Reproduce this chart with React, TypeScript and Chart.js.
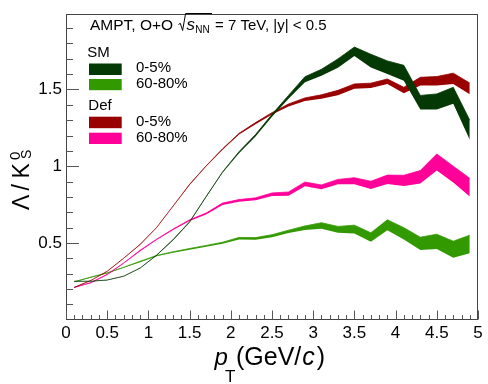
import React, { useEffect, useRef } from "react";
import { Chart, registerables } from "chart.js";

Chart.register(...registerables);

const FONT = '"Liberation Sans", Arial, Helvetica, sans-serif';

// pT bin centres (GeV/c)
const PT: number[] = [0.1, 0.3, 0.5, 0.7, 0.9, 1.1, 1.3, 1.5, 1.7, 1.9, 2.1, 2.3, 2.5, 2.7, 2.9, 3.1, 3.3, 3.5, 3.7, 3.9, 4.1, 4.3, 4.5, 4.7, 4.9];

// SM 0-5%
const SM_0_5: number[] = [0.25, 0.25, 0.258, 0.283, 0.336, 0.42, 0.52, 0.636, 0.8, 0.96, 1.09, 1.2, 1.33, 1.45, 1.565, 1.61, 1.67, 1.747, 1.686, 1.643, 1.607, 1.415, 1.42, 1.46, 1.236];
const SM_0_5_ERR: number[] = [0.001, 0.001, 0.001, 0.001, 0.001, 0.001, 0.002, 0.002, 0.002, 0.003, 0.005, 0.006, 0.008, 0.011, 0.018, 0.021, 0.029, 0.029, 0.043, 0.043, 0.05, 0.046, 0.051, 0.054, 0.064];

// SM 60-80%
const SM_60_80: number[] = [0.246, 0.276, 0.304, 0.34, 0.378, 0.416, 0.44, 0.46, 0.48, 0.5, 0.529, 0.528, 0.546, 0.574, 0.598, 0.612, 0.587, 0.589, 0.537, 0.617, 0.561, 0.496, 0.509, 0.458, 0.492];
const SM_60_80_ERR: number[] = [0.002, 0.002, 0.002, 0.002, 0.003, 0.003, 0.003, 0.004, 0.004, 0.005, 0.007, 0.007, 0.008, 0.009, 0.013, 0.02, 0.021, 0.027, 0.029, 0.034, 0.039, 0.042, 0.048, 0.054, 0.059];

// Def 0-5%
const DEF_0_5: number[] = [0.21, 0.255, 0.315, 0.4, 0.49, 0.6, 0.74, 0.88, 1.0, 1.11, 1.21, 1.279, 1.343, 1.397, 1.435, 1.452, 1.478, 1.52, 1.525, 1.552, 1.495, 1.552, 1.555, 1.571, 1.505];
const DEF_0_5_ERR: number[] = [0.001, 0.001, 0.001, 0.001, 0.001, 0.001, 0.001, 0.002, 0.002, 0.003, 0.004, 0.005, 0.006, 0.008, 0.01, 0.013, 0.016, 0.016, 0.016, 0.016, 0.019, 0.027, 0.029, 0.035, 0.037];

// Def 60-80%
const DEF_60_80: number[] = [0.21, 0.24, 0.294, 0.368, 0.45, 0.522, 0.588, 0.647, 0.69, 0.754, 0.776, 0.786, 0.816, 0.82, 0.883, 0.864, 0.898, 0.904, 0.877, 0.913, 0.906, 0.93, 1.026, 0.947, 0.862];
const DEF_60_80_ERR: number[] = [0.001, 0.002, 0.002, 0.002, 0.003, 0.003, 0.003, 0.004, 0.005, 0.006, 0.007, 0.008, 0.01, 0.012, 0.014, 0.014, 0.016, 0.021, 0.025, 0.029, 0.035, 0.042, 0.054, 0.053, 0.059];

const X_TICKS: number[] = [0, 0.5, 1, 1.5, 2, 2.5, 3, 3.5, 4, 4.5, 5];
const Y_TICKS: number[] = [0.5, 1, 1.5];

const C_SM_0_5 = "#043804";
const C_SM_60_80 = "#339900";
const C_DEF_0_5 = "#990000";
const C_DEF_60_80 = "#ff0099";

function band(center: number[], err: number[], color: string, order: number) {
  const lower = {
    data: PT.map((x, i) => ({ x, y: center[i] - err[i] })),
    borderColor: "rgba(0,0,0,0)",
    borderWidth: 1,
    backgroundColor: color,
    fill: false,
    pointRadius: 0,
    order: order + 1,
  };
  const upper = {
    data: PT.map((x, i) => ({ x, y: center[i] + err[i] })),
    borderColor: color,
    borderWidth: 0.8,
    backgroundColor: color,
    fill: "-1",
    pointRadius: 0,
    order: order,
  };
  return [lower, upper];
}

function txt(ctx: CanvasRenderingContext2D, s: string, x: number, y: number, size: number, italic = false) {
  ctx.font = `${italic ? "italic " : ""}${size}px ${FONT}`;
  ctx.fillText(s, x, y);
  return ctx.measureText(s).width;
}

const decor = {
  id: "decor",
  afterDraw(chart: any) {
    const ctx: CanvasRenderingContext2D = chart.ctx;
    const { left, right, top, bottom } = chart.chartArea;
    const xs = chart.scales.x;
    const ys = chart.scales.y;
    ctx.save();
    // frame
    ctx.strokeStyle = "#444";
    ctx.lineWidth = 1;
    const L = Math.floor(left) + 0.5;
    const R = Math.floor(right) - 0.5;
    const T = Math.floor(top) + 0.5;
    const B = Math.floor(bottom) + 0.5;
    ctx.strokeRect(L, T, R - L, B - T);
    // x ticks (inward)
    ctx.strokeStyle = "#555";
    ctx.beginPath();
    for (let i = 0; i <= 50; i++) {
      const px = Math.round(xs.getPixelForValue(i / 10)) + 0.5;
      const len = i % 5 === 0 ? 9 : 4.5;
      ctx.moveTo(px, B);
      ctx.lineTo(px, B - len);
    }
    // y ticks
    for (let i = 1; i <= 19; i++) {
      const py = Math.round(ys.getPixelForValue(i / 10)) + 0.5;
      const len = i % 5 === 0 ? 12.5 : 6.5;
      ctx.moveTo(L, py);
      ctx.lineTo(L + len, py);
    }
    ctx.stroke();

    ctx.fillStyle = "#000";
    ctx.textAlign = "left";
    ctx.textBaseline = "alphabetic";

    // header line
    txt(ctx, "AMPT, O+O", 90, 30, 15.5);
    ctx.strokeStyle = "#000";
    ctx.lineWidth = 1;
    ctx.beginPath();
    ctx.moveTo(178.5, 24.5);
    ctx.lineTo(180.3, 23.3);
    ctx.lineTo(182.6, 30.5);
    ctx.lineTo(185.6, 13.5);
    ctx.lineTo(212, 13.5);
    ctx.stroke();
    txt(ctx, "s", 186.5, 30, 17, true);
    txt(ctx, "NN", 195.3, 32.7, 10);
    txt(ctx, "= 7 TeV, |y| < 0.5", 215, 30, 15);

    // legend
    txt(ctx, "SM", 87.3, 57.3, 15);
    ctx.fillStyle = C_SM_0_5;
    ctx.fillRect(89, 63.5, 32.7, 11.5);
    ctx.fillStyle = C_SM_60_80;
    ctx.fillRect(89, 79, 32.7, 11.2);
    ctx.fillStyle = "#000";
    txt(ctx, "0-5%", 136, 72.3, 15);
    txt(ctx, "60-80%", 136, 88.3, 15);
    txt(ctx, "Def", 88.3, 110, 15);
    ctx.fillStyle = C_DEF_0_5;
    ctx.fillRect(89, 116.7, 32.7, 11.5);
    ctx.fillStyle = C_DEF_60_80;
    ctx.fillRect(89, 132.7, 32.7, 11.3);
    ctx.fillStyle = "#000";
    txt(ctx, "0-5%", 136, 125.7, 15);
    txt(ctx, "60-80%", 136, 141.7, 15);

    // y title
    ctx.save();
    ctx.translate(28.5, 210);
    ctx.rotate(-Math.PI / 2);
    txt(ctx, "\u039b", 0, 0, 23);
    txt(ctx, "/", 19.5, 0, 23);
    txt(ctx, "K", 31.5, 0, 23);
    txt(ctx, "0", 50, -8.5, 15);
    txt(ctx, "S", 51, 2.2, 14);
    ctx.restore();

    // x title
    txt(ctx, "p", 214.5, 365, 24, true);
    txt(ctx, "T", 225, 381.7, 17);
    let x = 236;
    x += txt(ctx, "(GeV/", x, 365, 25);
    x += 1;
    x += txt(ctx, "c", x, 365, 25, true);
    x += 2;
    txt(ctx, ")", x, 365, 25);

    ctx.restore();
  },
};

export default function App() {
  const ref = useRef<HTMLCanvasElement | null>(null);
  useEffect(() => {
    if (!ref.current) return;
    const datasets = [
      ...band(SM_0_5, SM_0_5_ERR, C_SM_0_5, 0),
      ...band(DEF_0_5, DEF_0_5_ERR, C_DEF_0_5, 2),
      ...band(DEF_60_80, DEF_60_80_ERR, C_DEF_60_80, 4),
      ...band(SM_60_80, SM_60_80_ERR, C_SM_60_80, 6),
    ];
    const chart = new Chart(ref.current, {
      type: "line",
      data: { datasets: datasets as any },
      options: {
        responsive: false,
        animation: false,
        devicePixelRatio: 1,
        layout: { padding: { left: 0, right: 10, top: 11, bottom: 0 } },
        plugins: {
          legend: { display: false },
          tooltip: { enabled: false },
          title: { display: false },
        },
        elements: { point: { radius: 0 }, line: { tension: 0 } },
        scales: {
          x: {
            type: "linear",
            min: 0,
            max: 5,
            grid: { display: false, drawTicks: false },
            border: { display: false },
            afterBuildTicks: (s: any) => {
              s.ticks = X_TICKS.map((v) => ({ value: v }));
            },
            afterFit: (s: any) => {
              s.height = 65;
            },
            ticks: {
              font: { family: FONT, size: 17 },
              color: "#000",
              padding: 4,
              maxRotation: 0,
              autoSkip: false,
              callback: (v: any) => String(v),
            },
          },
          y: {
            type: "linear",
            min: 0.005,
            max: 1.99,
            grid: { display: false, drawTicks: false },
            border: { display: false },
            afterBuildTicks: (s: any) => {
              s.ticks = Y_TICKS.map((v) => ({ value: v }));
            },
            afterFit: (s: any) => {
              s.width = 66;
            },
            ticks: {
              font: { family: FONT, size: 17 },
              color: "#000",
              padding: 4,
              callback: (v: any) => String(v),
            },
          },
        },
      },
      plugins: [decor],
    });
    return () => chart.destroy();
  }, []);
  return (
    <div style={{ position: "fixed", left: 0, top: 0, width: 488, height: 384, background: "#fff" }}>
      <canvas ref={ref} width={488} height={384} style={{ display: "block" }} />
    </div>
  );
}
